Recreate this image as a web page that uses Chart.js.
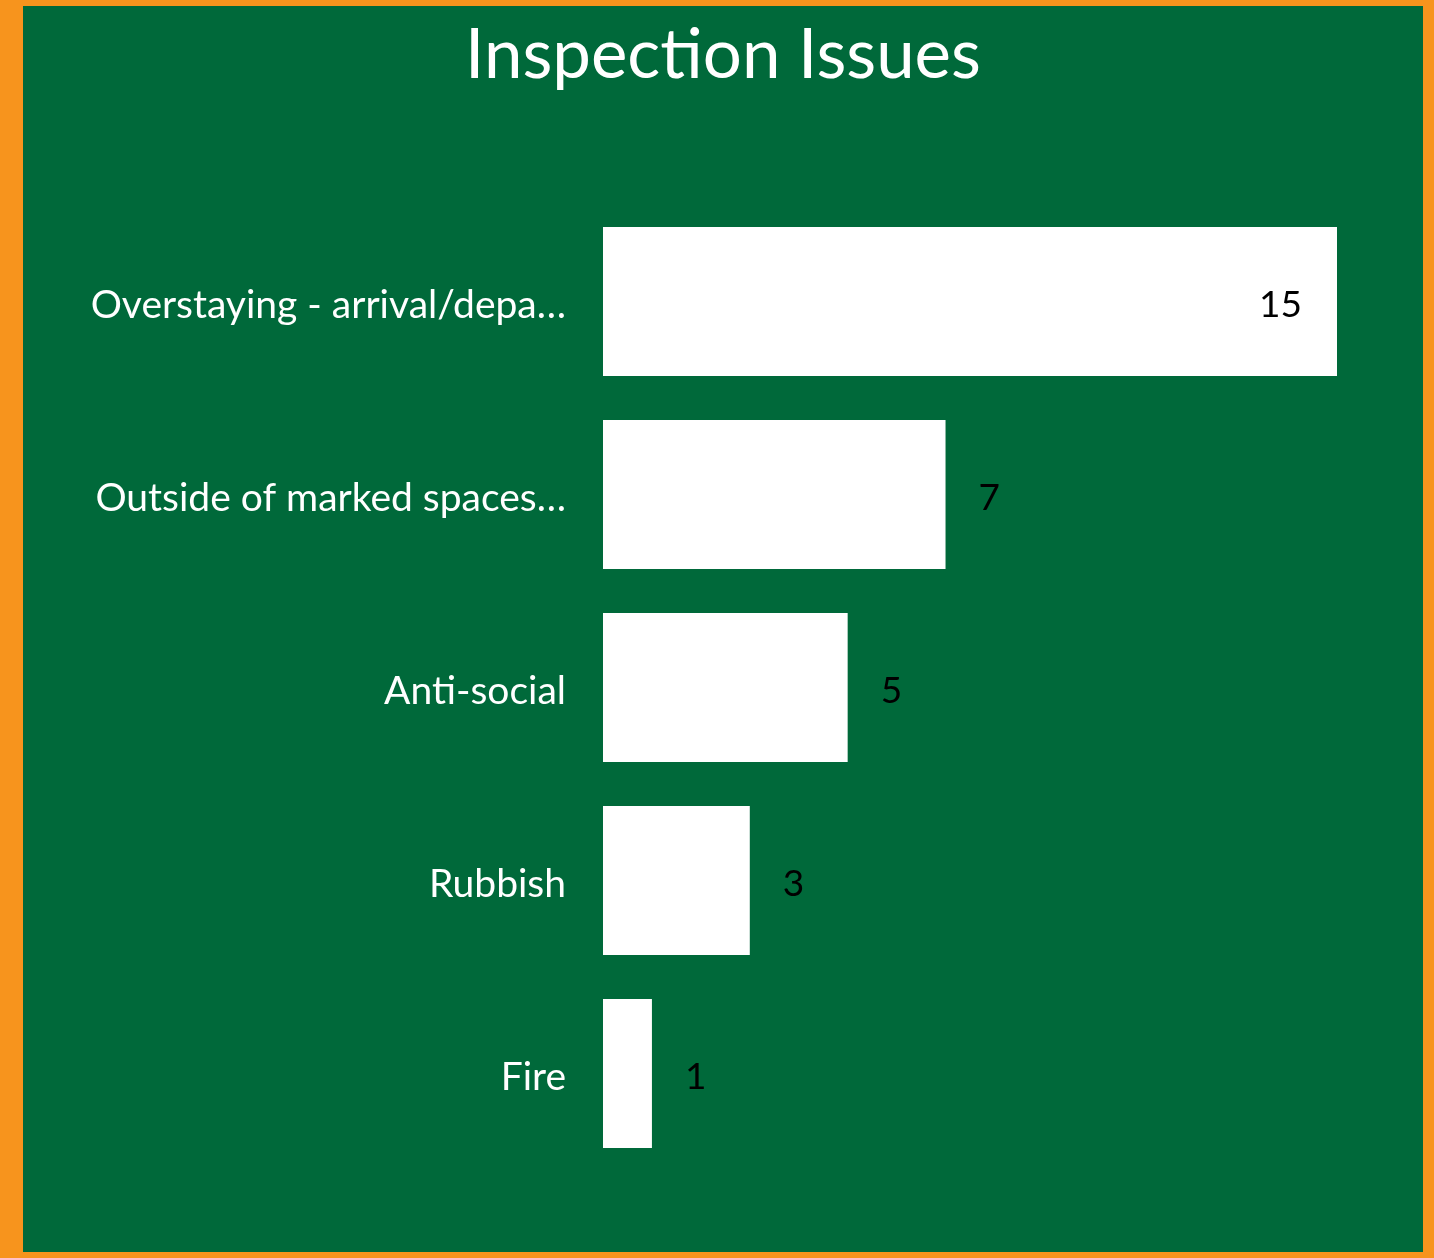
<!DOCTYPE html>
<html>
<head>
<meta charset="utf-8">
<script src="https://cdn.jsdelivr.net/npm/chart.js@4/dist/chart.umd.min.js"></script>
<style>
  html, body { margin: 0; padding: 0; background: #F7941D; }
  #frame {
    position: absolute; left: 23px; top: 6px;
    width: 1400px; height: 1246px; background: #00693A;
  }
</style>
</head>
<body>
<div id="frame"><canvas id="issues"></canvas></div>
<script>
const chartTitle = "Inspection Issues"
const categories = [
  "Overstaying - arrival/depa\u2026",
  "Outside of marked spaces\u2026",
  "Anti-social",
  "Rubbish",
  "Fire"
]
const counts = [15, 7, 5, 3, 1]

// value labels: outside the bar end, or inside when they would not fit
const barValues = {
  id: 'barValues',
  afterDatasetsDraw(chart) {
    const ctx = chart.ctx
    const area = chart.chartArea
    ctx.save()
    ctx.font = '37px Lato'
    ctx.fillStyle = '#000'
    ctx.textBaseline = 'middle'
    chart.getDatasetMeta(0).data.forEach(function(bar, i) {
      const txt = String(counts[i])
      const w = ctx.measureText(txt).width
      if (bar.x + 33 + w > area.right) {
        ctx.textAlign = 'right'
        ctx.fillText(txt, bar.x - 35, bar.y + 4)
      } else {
        ctx.textAlign = 'left'
        ctx.fillText(txt, bar.x + 33, bar.y + 4)
      }
    })
    ctx.restore()
  }
}

// title centred on the whole canvas (the built-in one centres inside the padding)
const canvasTitle = {
  id: 'canvasTitle',
  afterDraw(chart) {
    const ctx = chart.ctx
    ctx.save()
    ctx.font = '69px Lato'
    ctx.fillStyle = '#FFFFFF'
    ctx.textAlign = 'center'
    ctx.textBaseline = 'alphabetic'
    ctx.fillText(chartTitle, chart.width / 2, 72)
    ctx.restore()
  }
}

new Chart(document.getElementById('issues'), {
  type: 'bar',
  data: {
    labels: categories,
    datasets: [{
      data: counts,
      backgroundColor: '#FFFFFF',
      borderWidth: 0,
      categoryPercentage: 0.772,
      barPercentage: 1
    }]
  },
  options: {
    indexAxis: 'y',
    responsive: true,
    maintainAspectRatio: false,
    animation: false,
    layout: { padding: { left: 0, right: 86, top: 199, bottom: 82 } },
    plugins: {
      legend: { display: false },
      tooltip: { enabled: false },
      title: { display: false }
    },
    scales: {
      x: { display: false, min: 0, max: 15 },
      y: {
        grid: { display: false, drawTicks: false },
        border: { display: false },
        ticks: {
          color: '#FFFFFF',
          padding: 37,
          labelOffset: 4,
          font: { family: 'Lato', size: 39 }
        },
        afterFit: function(scale) { scale.width = 580 }
      }
    }
  },
  plugins: [barValues, canvasTitle]
});
</script>
</body>
</html>
